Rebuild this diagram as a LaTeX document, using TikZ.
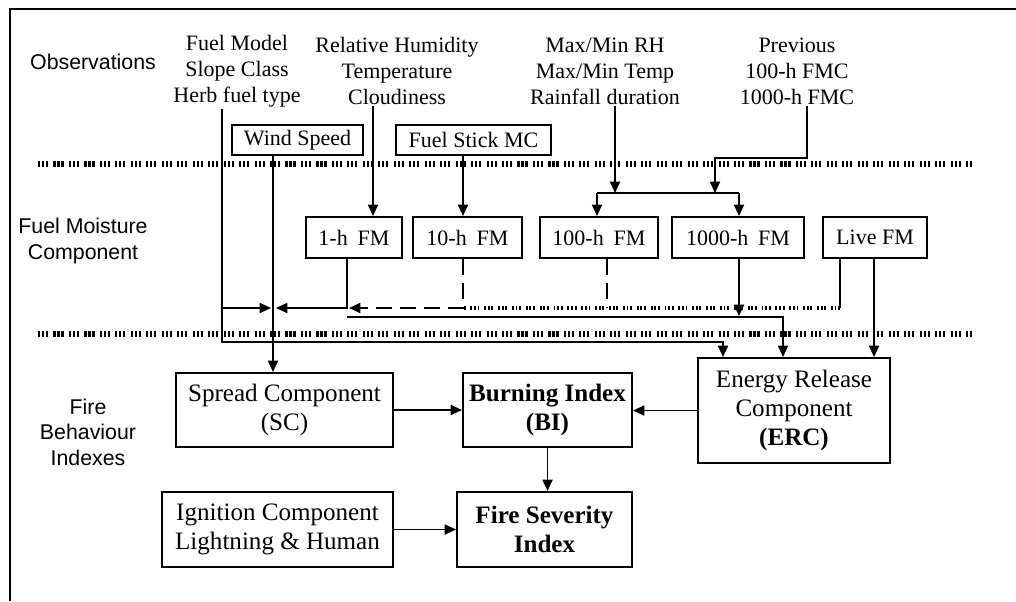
\documentclass[tikz,border=0pt]{standalone}
\usepackage{fontspec}
\setmainfont{Liberation Serif}
\newfontfamily\lblfont{Liberation Sans}
\usetikzlibrary{arrows.meta}
\begin{document}
\begin{tikzpicture}[x=0.75pt,y=-0.75pt,
  box/.style={draw,line width=1.5pt,inner sep=0pt,align=center,font=\fontsize{16.5}{19}\selectfont},
  bigbox/.style={draw,line width=1.5pt,inner sep=0pt,align=center,font=\fontsize{18.8}{21.75}\selectfont},
  obs/.style={align=center,inner sep=1pt,font=\fontsize{16.5}{19.5}\selectfont},
  lbl/.style={align=center,inner sep=0pt,font=\lblfont\fontsize{16}{19.2}\selectfont},
  ln/.style={line width=1.4pt},
  arr/.style={line width=1.4pt,-{Triangle[length=8.5pt,width=7.5pt]}},
  sepline/.style={line width=3.8pt,dash pattern=on 1.6pt off 1.4pt on 1.6pt off 1.4pt on 1.6pt off 4pt},
  sepsmall/.style={line width=2.8pt,dash pattern=on 1.4pt off 1.3pt on 1.4pt off 1.3pt on 1.4pt off 3.6pt},
  dsh/.style={line width=1.4pt,dash pattern=on 12pt off 6pt},
]
\useasboundingbox (0,0) rectangle (1016,601);
% frame
\draw[line width=2.2pt] (10,601) -- (10,9) -- (1016,9);

% separators
\draw[sepline] (38,164) -- (973,164);
\draw[sepline] (38,334) -- (973,334);

% side labels
\node[lbl] (Lobs) at (93,62) {Observations};
\node[lbl] (Lfm) at (83,241) {Fuel Moisture\\Component};
\node[lbl] (Lfb) at (88,432) {Fire\\Behaviour\\Indexes};

% observation texts
\node[obs] (oA) at (237,71) {Fuel Model\\Slope Class\\Herb fuel type};
\node[obs] (oB) at (397,71) {Relative Humidity\\Temperature\\Cloudiness};
\node[obs] (oC) at (605,71) {Max/Min RH\\Max/Min Temp\\Rainfall duration};
\node[obs] (oD) at (797,71) {Previous\\100-h FMC\\1000-h FMC};

% boxes
\node[box,minimum width=98.3pt,minimum height=22.5pt] (ws) at (297.5,140) {Wind Speed};
\node[box,minimum width=116.3pt,minimum height=22.5pt] (fs) at (473.5,140) {Fuel Stick MC};
\node[box,minimum width=72pt,minimum height=30.75pt] (h1) at (354,237.5) {1-h\hspace{0.45em}FM};
\node[box,minimum width=81.75pt,minimum height=30.75pt] (h10) at (467.5,237.5) {10-h\hspace{0.45em}FM};
\node[box,minimum width=88.5pt,minimum height=30.75pt] (h100) at (599,237.5) {100-h\hspace{0.45em}FM};
\node[box,minimum width=99pt,minimum height=30.75pt] (h1000) at (738,237.5) {1000-h\hspace{0.45em}FM};
\node[box,minimum width=78pt,minimum height=30.75pt] (live) at (875,237.5) {Live FM};

\node[bigbox,minimum width=162.75pt,minimum height=55.5pt] (sc) at (284.5,410) {Spread Component\\(SC)};
\node[bigbox,minimum width=126.75pt,minimum height=55.5pt] (bi) at (547.5,410) {\textbf{Burning Index}\\\textbf{(BI)}};
\node[bigbox,minimum width=144pt,minimum height=78.75pt] (erc) at (794,410.5) {Energy Release\\Component\\\textbf{(ERC)}};
\node[bigbox,minimum width=173.25pt,minimum height=56.25pt] (ig) at (277.5,529.5) {Ignition Component\\Lightning \& Human};
\node[bigbox,minimum width=131.25pt,minimum height=56.25pt] (fsi) at (544.5,529.5) {\textbf{Fire Severity}\\\textbf{Index}};

% coordinates
\coordinate (a1) at (222,342);
\coordinate (a2) at (723,342);
\coordinate (a3) at (222,308);
\coordinate (wsj) at (271,308);
\coordinate (ws1) at (273,0);
\coordinate (rh) at (373,0);
\coordinate (fsx) at (463,0);
\coordinate (mm) at (615,193);
\coordinate (p1) at (807,158);
\coordinate (p2) at (715,158);
\coordinate (p3) at (715,193);
\coordinate (jL) at (597,193);
\coordinate (jR) at (739,193);
\coordinate (b1) at (347,308);
\coordinate (b2) at (276,308);
\coordinate (c1) at (463,308);
\coordinate (c2) at (349,308);
\coordinate (g1) at (607,308);
\coordinate (l1) at (840,308);
\coordinate (l2) at (874,0);
\coordinate (d1) at (739,316);
\coordinate (e1) at (347,317);
\coordinate (e2) at (783,317);

% connectors
\draw[arr] (oA.south -| a1) -- (a1) -- (a2) -- (erc.north -| a2);
\draw[arr] (a3) -- (wsj);
\draw[arr] (ws.south -| ws1) -- (sc.north -| ws1);
\draw[arr] (oB.south -| rh) -- (h1.north -| rh);
\draw[arr] (fs.south -| fsx) -- (h10.north -| fsx);
\draw[arr] (oC.south -| mm) -- (mm);
\draw[arr] (oD.south -| p1) -- (p1) -- (p2) -- (p3);
\draw[ln] (jL) -- (jR);
\draw[arr] (jL) -- (h100.north -| jL);
\draw[arr] (jR) -- (h1000.north -| jR);

\draw[arr] (h1.south -| b1) -- (b1) -- (b2);
\draw[dsh,-{Triangle[length=8.5pt,width=7.5pt]}] (h10.south -| c1) -- (c1) -- (c2);
\draw[dsh] (h100.south -| g1) -- (g1);
\draw[ln] (live.south -| l1) -- (l1);
\draw[sepsmall] (l1) -- (c1);
\draw[arr] (live.south -| l2) -- (erc.north -| l2);
\draw[arr] (h1000.south -| d1) -- (d1);
\draw[arr] (e1) -- (e2) -- (erc.north -| e2);

\draw[arr] (sc.east) -- (bi.west);
\draw[arr] (erc.west) -- (erc.west -| bi.east);
\draw[arr] (bi.south) -- (fsi.north -| bi.south);
\draw[arr] (ig.east) -- (ig.east -| fsi.west);
\end{tikzpicture}
\end{document}
